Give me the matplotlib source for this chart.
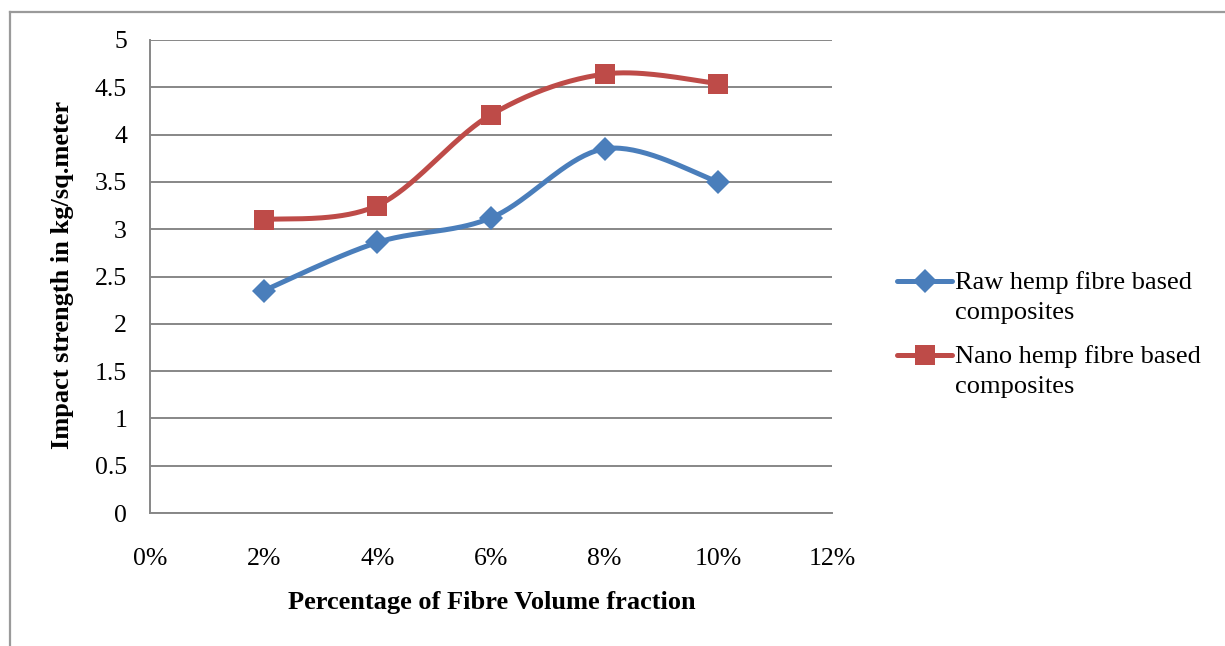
import numpy as np
import matplotlib
matplotlib.use("Agg")
import matplotlib.pyplot as plt
from matplotlib.lines import Line2D
from matplotlib.ticker import FuncFormatter

# Data
fibre_pct = [2, 4, 6, 8, 10]
raw_hemp = [2.35, 2.86, 3.12, 3.85, 3.50]
nano_hemp = [3.10, 3.25, 4.21, 4.64, 4.54]
series_labels = ["Raw hemp fibre based\ncomposites", "Nano hemp fibre based\ncomposites"]
x_ticks = [0, 2, 4, 6, 8, 10, 12]
y_ticks = [0, 0.5, 1, 1.5, 2, 2.5, 3, 3.5, 4, 4.5, 5]
x_title = "Percentage of Fibre Volume fraction"
y_title = "Impact strength in kg/sq.meter"

BLUE = "#4A7EBB"
RED = "#BE4B48"
GRID = "#878787"

plt.rcParams["font.family"] = ["Liberation Serif", "DejaVu Serif"]


def smooth(xs, ys, n=40):
    """Bezier-smoothed polyline through the points (Catmull-Rom style, 1/6 tangents)."""
    p = np.column_stack([xs, ys]).astype(float)
    out = []
    for i in range(len(p) - 1):
        p0 = p[i - 1] if i > 0 else p[i]
        p1 = p[i]
        p2 = p[i + 1]
        p3 = p[i + 2] if i + 2 < len(p) else p[i + 1]
        c1 = p1 + (p2 - p0) / 6.0
        c2 = p2 - (p3 - p1) / 6.0
        t = np.linspace(0, 1, n)[:, None]
        seg = ((1 - t) ** 3) * p1 + 3 * ((1 - t) ** 2) * t * c1 + 3 * (1 - t) * t ** 2 * c2 + t ** 3 * p2
        out.append(seg if i == 0 else seg[1:])
    s = np.vstack(out)
    return s[:, 0], s[:, 1]


LW = 3.6
styles = [(raw_hemp, BLUE, "D", 12.5), (nano_hemp, RED, "s", 14.4)]

fig = plt.figure(figsize=(12.25, 6.46), dpi=100)
ax = fig.add_axes([150 / 1225, 1 - 513 / 646, (832 - 150) / 1225, (513 - 40) / 646])

for ys, col, mk, ms in styles:
    sx, sy = smooth(fibre_pct, ys)
    ax.plot(sx, sy, color=col, lw=LW, solid_capstyle="round", zorder=3)
    ax.plot(fibre_pct, ys, linestyle="none", marker=mk, markersize=ms,
            color=col, markeredgecolor=col, markeredgewidth=0, zorder=4)

ax.set_xlim(0, 12)
ax.set_ylim(0, 5)
ax.set_xticks(x_ticks)
ax.set_yticks(y_ticks)
ax.xaxis.set_major_formatter(FuncFormatter(lambda v, _: f"{v:g}%"))
ax.yaxis.set_major_formatter(FuncFormatter(lambda v, _: f"{v:g}"))
ax.tick_params(axis="both", length=0, labelsize=18.5, colors="black")
ax.tick_params(axis="x", pad=25)
ax.tick_params(axis="y", pad=16.5)
ax.grid(axis="y", color=GRID, lw=1.4)
ax.set_axisbelow(True)
for side in ["top", "right"]:
    ax.spines[side].set_visible(False)
for side in ["left", "bottom"]:
    ax.spines[side].set_color(GRID)
    ax.spines[side].set_linewidth(1.4)

fig.text(492 / 1225, 1 - 603 / 646, x_title, ha="center", va="center",
         fontsize=19, fontweight="bold")
fig.text(62 / 1225, 1 - 275 / 646, y_title, ha="center", va="center",
         fontsize=19, fontweight="bold", rotation=90)

# Legend drawn by hand so the key sits beside the first text line
for (lbl, (_, col, mk, ms)), ypix in zip(zip(series_labels, styles), [281, 355]):
    yf = 1 - ypix / 646
    fig.add_artist(Line2D([897 / 1225, 952 / 1225], [yf, yf], color=col, lw=LW,
                          solid_capstyle="round", transform=fig.transFigure))
    fig.add_artist(Line2D([925 / 1225], [yf], marker=mk, markersize=ms, color=col,
                          markeredgewidth=0, linestyle="none", transform=fig.transFigure))
    fig.text(955 / 1225, yf + 10 / 646, lbl, ha="left", va="top", fontsize=19,
             linespacing=1.45)

# Outer chart frame (top and left edges)
fig.add_artist(Line2D([10 / 1225, 1], [1 - 11.5 / 646, 1 - 11.5 / 646], color="#9a9a9a", lw=1.6,
                      transform=fig.transFigure))
fig.add_artist(Line2D([10 / 1225, 10 / 1225], [0, 1 - 11.5 / 646], color="#9a9a9a", lw=1.6,
                      transform=fig.transFigure))

fig.savefig("out.png", dpi=100, facecolor="white")
